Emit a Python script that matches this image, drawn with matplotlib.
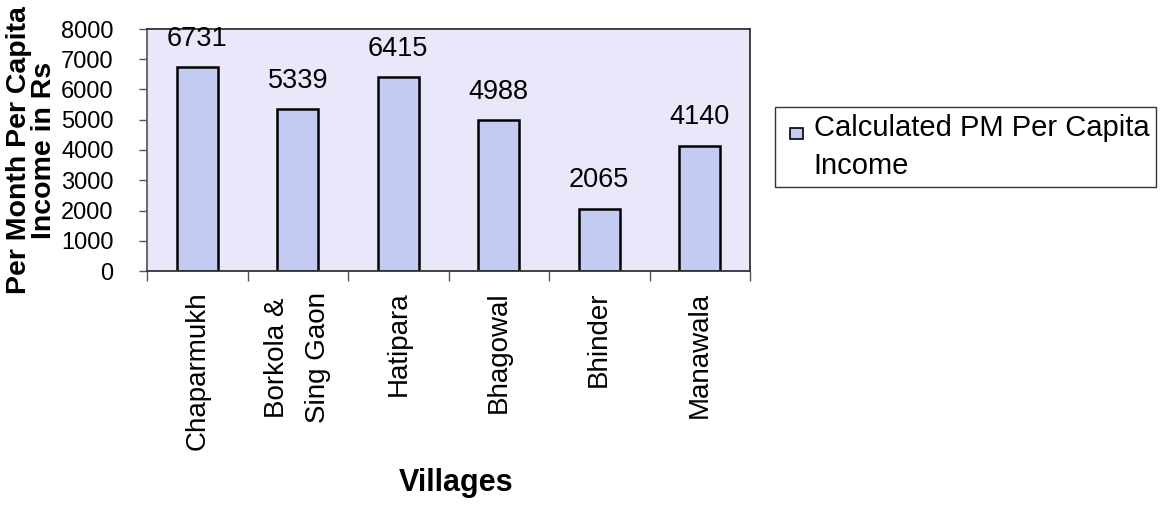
import matplotlib
matplotlib.use("Agg")
import matplotlib.pyplot as plt
from matplotlib.patches import Rectangle
from matplotlib.legend_handler import HandlerPatch

# Data
villages = ["Chaparmukh", "Borkola &\nSing Gaon", "Hatipara", "Bhagowal", "Bhinder", "Manawala"]
income = [6731, 5339, 6415, 4988, 2065, 4140]
y_ticks = [0, 1000, 2000, 3000, 4000, 5000, 6000, 7000, 8000]
series_label = "Calculated PM Per Capita\nIncome"
x_title = "Villages"
y_title = "Per Month Per Capita\nIncome in Rs"

plt.rcParams['font.family'] = ['Liberation Sans', 'DejaVu Sans']

BG = '#E8E8FA'
BAR = '#C3CBF2'
FRAME = '#333333'

W, H = 1165, 505
fig = plt.figure(figsize=(W / 100, H / 100), dpi=100)
fig.patch.set_facecolor('white')

ax = fig.add_axes([147 / W, 1 - 271 / H, (750 - 147) / W, (271 - 29) / H])
ax.set_facecolor(BG)

pos = list(range(len(villages)))
bars = ax.bar(pos, income, width=0.41, color=BAR, edgecolor='black',
              linewidth=1.8, label=series_label, zorder=2)

for b, v in zip(bars, income):
    ax.annotate(f"{v}", (b.get_x() + b.get_width() / 2, v),
                xytext=(0, 11), textcoords='offset points',
                ha='center', va='bottom', fontsize=19.5,
                annotation_clip=False, zorder=5)

ax.set_xlim(-0.5, len(villages) - 0.5)
ax.set_ylim(0, 8000)
ax.set_yticks(y_ticks)
ax.set_yticklabels([str(t) for t in y_ticks])

ax.set_xticks(pos)
ax.set_xticklabels(villages, rotation=90, fontsize=20,
                   multialignment='center', linespacing=1.75)
ax.set_xticks([p - 0.5 for p in range(len(villages) + 1)], minor=True)
ax.tick_params(axis='x', which='major', length=0, pad=15)
ax.tick_params(axis='x', which='minor', length=7, width=1, color='#555555',
               direction='out')
ax.tick_params(axis='y', which='major', length=6, width=1, color='#555555',
               pad=18, labelsize=17, direction='out')

for side, sp in ax.spines.items():
    sp.set_color(FRAME)
    sp.set_linewidth(1.3)
ax.spines['left'].set_color('#5a5a70')

ax.set_ylabel(y_title, fontsize=20.5, fontweight='bold', linespacing=0.95,
              multialignment='center', va='center', ha='center')
ax.yaxis.set_label_coords((32 - 147) / (750 - 147), 0.5)
ax.set_xlabel(x_title, fontsize=22, fontweight='bold', va='center')
ax.xaxis.set_label_coords((456 - 147) / (750 - 147), (271 - 483) / (271 - 29))


class FirstLineHandle(HandlerPatch):
    """Small square key placed beside the first line of a two-line label."""

    def __init__(self, dx, lift, w, h, **kw):
        super().__init__(**kw)
        self.dx, self.lift, self.w, self.h = dx, lift, w, h

    def create_artists(self, legend, orig_handle, xdescent, ydescent,
                       width, height, fontsize, trans):
        p = Rectangle((-xdescent + self.dx, self.lift), self.w, self.h)
        self.update_prop(p, orig_handle, legend)
        p.set_linewidth(1.2)
        p.set_edgecolor('black')
        p.set_transform(trans)
        return [p]


key = bars.patches[0]
leg = ax.legend([key], [series_label], loc='upper left',
                bbox_to_anchor=(775 / W, 1 - 107 / H),
                bbox_transform=fig.transFigure, fontsize=21,
                frameon=True, fancybox=False, shadow=False,
                borderpad=0.25, borderaxespad=0, handlelength=0.72,
                handleheight=0.38, handletextpad=0.35,
                handler_map={key: FirstLineHandle(dx=5.8, lift=14.0,
                                                  w=9.4, h=8.0)})
leg.get_frame().set_edgecolor('black')
leg.get_frame().set_linewidth(1.0)
for t in leg.get_texts():
    t.set_linespacing(1.45)

fig.savefig('out.png', dpi=100)
